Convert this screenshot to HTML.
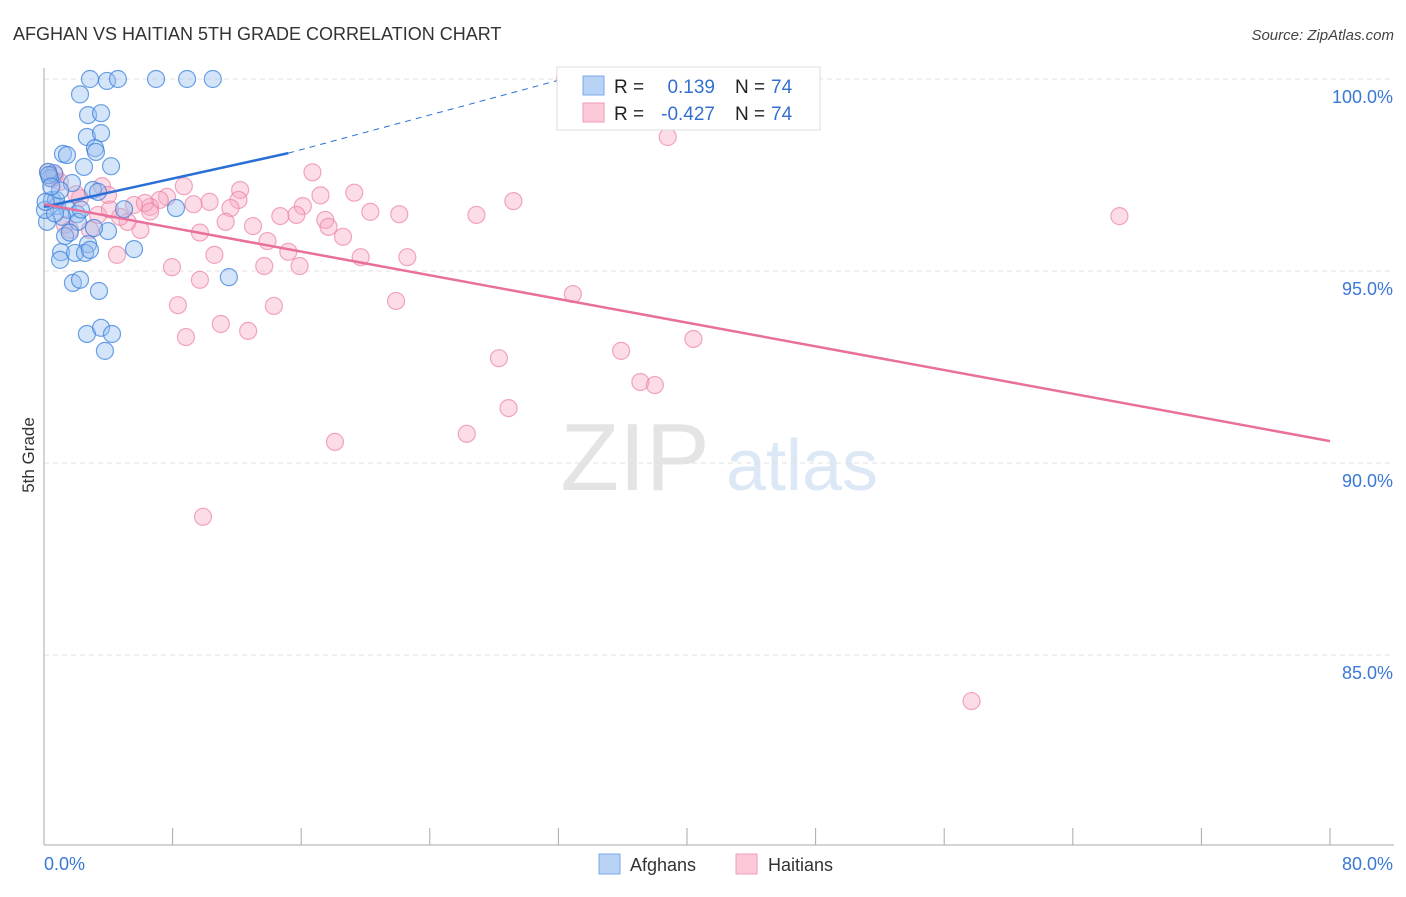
<!DOCTYPE html>
<html><head><meta charset="utf-8"><style>
body{margin:0;background:#fff;font-family:"Liberation Sans",sans-serif;}
svg text{font-family:"Liberation Sans",sans-serif;}
</style></head><body>
<svg id="chart" width="1406" height="892" xmlns="http://www.w3.org/2000/svg">
<text x="13" y="40" font-size="18" fill="#333">AFGHAN VS HAITIAN 5TH GRADE CORRELATION CHART</text>
<text x="1394" y="40" font-size="15" fill="#444" text-anchor="end" font-style="italic">Source: ZipAtlas.com</text>
<text transform="translate(34,455) rotate(-90)" font-size="17" fill="#333" text-anchor="middle">5th Grade</text>
<g>
<text x="635" y="490" font-size="96" fill="#e4e4e4" font-family="Liberation Serif,serif" text-anchor="middle">ZIP</text>
<text x="802" y="490" font-size="72" fill="#dce8f6" text-anchor="middle">atlas</text>
</g>
<g id="grid"></g><g id="axes"></g><g id="pts"></g><g id="trends"></g>
<g>
<rect x="557" y="67" width="263" height="63" fill="#fff" stroke="#ddd"/>
<rect x="583" y="76" width="21" height="19" fill="#b9d3f7" stroke="#7aa7e8"/>
<rect x="583" y="103" width="21" height="19" fill="#fbc9d8" stroke="#f09ab5"/>
<text x="614" y="93" font-size="19" fill="#222">R =</text>
<text x="715" y="93" font-size="19" fill="#3470d0" text-anchor="end">0.139</text>
<text x="735" y="93" font-size="19" fill="#222">N =</text><text x="771" y="93" font-size="19" fill="#3470d0">74</text>
<text x="614" y="120" font-size="19" fill="#222">R =</text>
<text x="715" y="120" font-size="19" fill="#3470d0" text-anchor="end">-0.427</text>
<text x="735" y="120" font-size="19" fill="#222">N =</text><text x="771" y="120" font-size="19" fill="#3470d0">74</text>
</g>
<g>
<rect x="599" y="854" width="21" height="20" fill="#b9d3f7" stroke="#7aa7e8"/>
<text x="630" y="871" font-size="18" fill="#333">Afghans</text>
<rect x="736" y="854" width="21" height="20" fill="#fbc9d8" stroke="#f09ab5"/>
<text x="768" y="871" font-size="18" fill="#333">Haitians</text>
</g>
</svg>
<script>
const yTicks=[100,95,90,85];
const yTickLabels=["100.0%","95.0%","90.0%","85.0%"];
const xTickCount=10;
const afghanX=[2.86,3.92,4.6,6.97,8.9,10.5,2.24,2.74,3.55,2.67,3.55,3.17,3.23,1.18,1.43,2.49,4.17,0.62,0.37,1.74,3.05,3.36,0.5,0.81,1.49,2.05,4.98,8.21,1.12,0.19,2.11,3.98,1.31,3.11,2.74,5.6,1.06,1.93,2.55,2.86,1.0,1.8,2.24,3.42,11.5,2.67,3.55,4.23,3.79,0.75,1.0,0.25,0.06,0.68,0.3,0.1,1.6,2.3,0.45];
const afghanY=[100,99.95,100,100,100,100,99.6,99.06,99.11,98.49,98.59,98.2,98.1,98.05,98.02,97.71,97.73,97.55,97.42,97.29,97.11,97.06,96.85,96.69,96.59,96.48,96.61,96.64,96.41,96.28,96.28,96.04,95.91,96.12,95.7,95.57,95.49,95.47,95.47,95.55,95.29,94.69,94.77,94.48,94.84,93.36,93.52,93.36,92.92,96.85,97.1,97.58,96.59,96.5,97.5,96.8,96.0,96.6,97.2];
const haitianX=[32.4,38.8,66.9,57.7,9.89,18.1,26.3,28.9,28.3,35.9,37.1,38.0,40.4,32.9,21.9,26.9,29.2,22.6,22.1,20.3,19.3,16.7,17.2,16.1,15.7,14.7,17.5,17.7,18.6,19.7,15.2,15.9,13.7,13.9,13.0,12.2,12.1,11.6,11.3,10.3,9.3,8.7,7.65,7.2,6.6,6.0,5.2,5.6,4.54,7.96,10.6,9.7,8.33,8.83,11.0,12.7,14.3,3.61,3.36,2.86,3.98,1.62,2.24,0.99,0.68,0.25,4.73,6.28,4.1,6.6,1.3,0.5,2.0,9.7];
const haitianY=[100,98.49,96.43,83.8,88.6,90.55,90.76,91.43,92.73,92.92,92.11,92.03,93.23,94.4,94.22,96.46,96.82,95.36,96.48,96.54,97.04,97.57,96.97,96.69,96.46,96.43,96.33,96.15,95.89,95.36,95.5,95.13,95.13,95.78,96.17,97.11,96.85,96.64,96.28,96.8,96.74,97.21,96.93,96.85,96.67,96.07,96.28,96.72,95.42,95.1,95.42,94.77,94.11,93.28,93.62,93.44,94.09,97.21,96.46,96.07,96.98,96.07,96.9,97.32,97.5,97.58,96.41,96.77,96.6,96.55,96.2,97.4,97.0,96.0];
const afghanTrend=[96.67,98.07]; const afghanTrendX=[0,15.2]; const afghanDashEnd=[32.3,100];
const haitianTrend=[96.74,90.57]; const haitianTrendX=[0,80];
const X0=44,X1=1330,Y100=79,PPY=38.4;
const sx=v=>X0+(X1-X0)*v/80, sy=v=>Y100+(100-v)*PPY;
const NS="http://www.w3.org/2000/svg";
function mk(parent,tag,attrs){const e=document.createElementNS(NS,tag);for(const k in attrs)e.setAttribute(k,attrs[k]);document.getElementById(parent).appendChild(e);return e;}
yTicks.forEach((t,i)=>{
 const g=mk('grid','line',{x1:X0,x2:1394,y1:sy(t),y2:sy(t),stroke:'#e0e0e0','stroke-dasharray':'5,4'});
 
 
 const l=mk('grid','text',{x:1393,y:sy(t)+24,'font-size':18,fill:'#3a78d4','text-anchor':'end'});
 l.textContent=yTickLabels[i];
 
 
});
const ax=mk('axes','line',{x1:X0,x2:X0,y1:68,y2:845,stroke:'#aaa'});


const bx=mk('axes','line',{x1:X0,x2:1394,y1:845,y2:845,stroke:'#aaa'});


for(let i=0;i<=xTickCount;i++){const t=mk('axes','line',{x1:sx(i*8),x2:sx(i*8),y1:828,y2:845,stroke:'#aaa'});
 
 }
[[0,"0.0%",'start',44],[80,"80.0%",'end',1393]].forEach(a=>{const t=mk('axes','text',{x:a[3],y:870,'font-size':18,fill:'#3a78d4','text-anchor':a[2]});t.textContent=a[1];
 
 });
haitianX.forEach((v,i)=>{const c=mk('pts','circle',{cx:sx(v),cy:sy(haitianY[i]),r:8.5,fill:'rgba(248,170,195,0.4)',stroke:'rgba(236,130,165,0.7)','stroke-width':1.2});
 
 });
afghanX.forEach((v,i)=>{const c=mk('pts','circle',{cx:sx(v),cy:sy(afghanY[i]),r:8.5,fill:'rgba(150,190,240,0.4)',stroke:'rgba(60,130,220,0.75)','stroke-width':1.2});
 
 });
const t1=mk('trends','line',{x1:sx(afghanTrendX[0]),y1:sy(afghanTrend[0]),x2:sx(afghanTrendX[1]),y2:sy(afghanTrend[1]),stroke:'#2a6fd6','stroke-width':2.5});


const t2=mk('trends','line',{x1:sx(afghanTrendX[1]),y1:sy(afghanTrend[1]),x2:sx(afghanDashEnd[0]),y2:sy(afghanDashEnd[1]),stroke:'#2a6fd6','stroke-width':1,'stroke-dasharray':'6,5'});


const t3=mk('trends','line',{x1:sx(haitianTrendX[0]),y1:sy(haitianTrend[0]),x2:sx(haitianTrendX[1]),y2:sy(haitianTrend[1]),stroke:'#e8709a','stroke-width':2.5});


</script>
</body></html>
